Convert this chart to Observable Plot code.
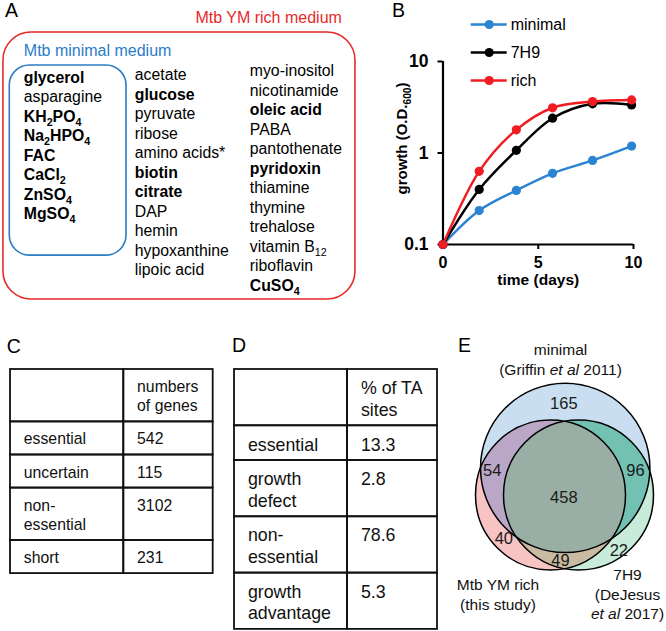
<!DOCTYPE html>
<html><head><meta charset="utf-8">
<script src="https://cdn.jsdelivr.net/npm/d3@7"></script>
<script src="https://cdn.jsdelivr.net/npm/@observablehq/plot@0.6"></script>
<style>
body{margin:0;background:#fff;}
#fig{position:relative;width:666px;height:631px;overflow:hidden;background:#fff;font-family:"Liberation Sans",Arial,Helvetica,sans-serif;}
.panel{position:absolute;}
.letter{position:absolute;font-size:19.5px;line-height:1;color:#000;}
</style></head><body><div id="fig"></div><script>
// ---------- Panel A data ----------
const minimalComponents = ["glycerol", "asparagine", "KH_{2}PO_{4}", "Na_{2}HPO_{4}", "FAC", "CaCl_{2}", "ZnSO_{4}", "MgSO_{4}"];
const richComponents1 = ["acetate", "glucose", "pyruvate", "ribose", "amino acids*", "biotin", "citrate", "DAP", "hemin", "hypoxanthine", "lipoic acid"];
const richComponents2 = ["myo-inositol", "nicotinamide", "oleic acid", "PABA", "pantothenate", "pyridoxin", "thiamine", "thymine", "trehalose", "vitamin B_{12}", "riboflavin", "CuSO_{4}"];
const boldComponents = ["glycerol", "KH_{2}PO_{4}", "Na_{2}HPO_{4}", "FAC", "CaCl_{2}", "ZnSO_{4}", "MgSO_{4}", "glucose", "biotin", "citrate", "oleic acid", "pyridoxin", "CuSO_{4}"];
const mediumTitles = ["Mtb YM rich medium", "Mtb minimal medium"];

// ---------- Panel B data ----------
const seriesNames = ["minimal", "7H9", "rich"];
const days = [0, 1.9, 3.85, 5.75, 7.85, 9.9];
const odMinimal = [0.1, 0.235, 0.39, 0.6, 0.83, 1.19];
const od7H9 = [0.1, 0.40, 1.07, 2.4, 3.45, 3.35];
const odRich = [0.1, 0.63, 1.79, 3.12, 3.65, 3.8];
const yTicks = [0.1, 1, 10];
const xTicks = [0, 5, 10];

// ---------- Panel C data ----------
const geneHeader = ["", "numbers\nof genes"];
const geneCategories = ["essential", "uncertain", "non-\nessential", "short"];
const geneCounts = [542, 115, 3102, 231];

// ---------- Panel D data ----------
const taHeader = ["", "% of TA\nsites"];
const taCategories = ["essential", "growth\ndefect", "non-\nessential", "growth\nadvantage"];
const taPercent = [13.3, 2.8, 78.6, 5.3];

// ---------- Panel E data ----------
const vennSetLabels = [["minimal", "(Griffin ~et al~ 2011)"], ["Mtb YM rich", "(this study)"], ["7H9", "(DeJesus", "~et al~ 2017)"]];
const vennRegions = ["minimal only", "minimal+rich", "minimal+7H9", "all three", "rich only", "7H9 only", "rich+7H9"];
const vennCounts = [165, 54, 96, 458, 40, 22, 49];

// ---------- styles / layout ----------
const FONT = '"Liberation Sans", Arial, Helvetica, sans-serif';
const RED = "#e62a2a", BLUE = "#2b7cc6";
const seriesColors = ["#2a84d2", "#000000", "#f01c22"];
const baseStyle = {fontFamily: FONT, fontSize: "16px", background: "transparent", color: "#000", overflow: "visible"};
const NS = "http://www.w3.org/2000/svg";
const fig = document.getElementById("fig");

function richText(root) {
  root.querySelectorAll("text").forEach(textEl => {
    const els = [textEl, ...textEl.querySelectorAll("tspan")];
    for (const el of els) {
      for (const node of [...el.childNodes]) {
        if (node.nodeType !== 3 || !/[_~]/.test(node.nodeValue)) continue;
        const fs = parseFloat(getComputedStyle(el).fontSize) || 16;
        const s = node.nodeValue;
        const frag = document.createDocumentFragment();
        const re = /_\{([^}]*)\}|~([^~]*)~/g;
        let last = 0, m, shift = 0;
        const push = (str, attrs) => {
          const t = document.createElementNS(NS, "tspan");
          for (const k in attrs) t.setAttribute(k, attrs[k]);
          t.textContent = str;
          frag.appendChild(t);
        };
        while ((m = re.exec(s))) {
          if (m.index > last) { push(s.slice(last, m.index), shift ? {dy: -shift} : {}); shift = 0; }
          if (m[1] !== undefined) {
            const d = fs * 0.24;
            push(m[1], {"font-size": (fs * 0.68).toFixed(2), dy: d - shift});
            shift = d;
          } else {
            push(m[2], Object.assign({"font-style": "italic"}, shift ? {dy: -shift} : {}));
            shift = 0;
          }
          last = re.lastIndex;
        }
        if (last < s.length) push(s.slice(last), shift ? {dy: -shift} : {});
        el.replaceChild(frag, node);
      }
    }
  });
}

function place(el, left, top) {
  const wrap = document.createElement("div");
  wrap.className = "panel";
  wrap.style.left = left + "px";
  wrap.style.top = top + "px";
  wrap.appendChild(el);
  fig.appendChild(wrap);
  richText(el);
  return el;
}

// ---------- Panel A ----------
const columnsA = [minimalComponents, richComponents1, richComponents2];
const itemsA = columnsA.flatMap((names, col) => names.map((name, row) => ({col, row, name, bold: boldComponents.includes(name)})));
const colNudge = [{dx: 0, dy: 6.2}, {dx: -2, dy: 3.6}, {dx: 0, dy: -0.3}];
const boxRich = {x1: -0.18, x2: 2.935, y1: -2.0, y2: 11.69};
const boxMinimal = {x1: -0.124, x2: 0.909, y1: -0.31, y2: 9.44};
const plotA = Plot.plot({
  width: 380, height: 300,
  marginLeft: 23.3, marginRight: 130.7, marginTop: 71, marginBottom: 14.5,
  x: {domain: [0, 2], axis: null},
  y: {domain: [0, 11], reverse: true, axis: null},
  style: baseStyle,
  marks: [
    Plot.rect([boxRich], {x1: "x1", x2: "x2", y1: "y1", y2: "y2", rx: 28, fill: "none", stroke: RED, strokeWidth: 1.6}),
    Plot.rect([boxMinimal], {x1: "x1", x2: "x2", y1: "y1", y2: "y2", rx: 20, fill: "none", stroke: BLUE, strokeWidth: 1.6}),
    Plot.text([mediumTitles[0]], {x: 1.519, y: -2.77, textAnchor: "start", lineAnchor: "middle", fill: RED, fontSize: 16}),
    Plot.text([mediumTitles[1]], {x: 0, y: -1.077, textAnchor: "start", lineAnchor: "middle", fill: BLUE, fontSize: 16}),
    ...colNudge.flatMap((o, col) => [false, true].map(bold =>
      Plot.text(itemsA.filter(d => d.col === col && d.bold === bold), {
        x: "col", y: "row", text: "name", textAnchor: "start", lineAnchor: "middle",
        dx: o.dx, dy: o.dy, fontSize: 15.8, fontWeight: bold ? "bold" : "normal", fill: "#000"
      })))
  ]
});
place(plotA, 0, 0);

// ---------- Panel B ----------
const growthSeries = [odMinimal, od7H9, odRich];
const growth = seriesNames.flatMap((s, k) => days.map((d, i) => ({series: s, day: d, od: growthSeries[k][i]})));
const plotB = Plot.plot({
  width: 286, height: 295,
  marginLeft: 62.5, marginRight: 33, marginTop: 61, marginBottom: 51,
  x: {domain: [0, 10]},
  y: {type: "log", domain: [0.1, 10]},
  color: {domain: seriesNames, range: seriesColors},
  style: baseStyle,
  marks: [
    Plot.axisY({ticks: yTicks, tickFormat: d => String(d), tickSize: 5, tickPadding: 9.5, fontSize: 17.5, fontWeight: "bold", strokeWidth: 2, label: null}),
    Plot.axisX({ticks: xTicks, tickSize: 5, tickPadding: 7, fontSize: 16, fontWeight: "bold", strokeWidth: 2, label: null}),
    Plot.ruleY([0.1], {x1: 0, x2: 10, stroke: "#000", strokeWidth: 2.2}),
    Plot.ruleX([0], {y1: 0.1, y2: 10, stroke: "#000", strokeWidth: 2.2}),
    Plot.line(growth, {x: "day", y: "od", stroke: "series", z: "series", curve: "catmull-rom", strokeWidth: 2.5}),
    Plot.dot(growth, {x: "day", y: "od", fill: "series", r: 4.6}),
    Plot.text(["time (days)"], {frameAnchor: "bottom", lineAnchor: "middle", textAnchor: "middle", dy: 35.3, fontSize: 15.5, fontWeight: "bold"}),
    Plot.text(["growth (O.D._{600})"], {frameAnchor: "left", lineAnchor: "middle", textAnchor: "middle", rotate: -90, dx: -40.8, dy: -14.5, fontSize: 15, fontWeight: "bold"})
  ]
});
place(plotB, 380, 0);

const legendB = Plot.plot({
  width: 120, height: 95,
  marginLeft: 5.7, marginRight: 78.3, marginTop: 23.3, marginBottom: 15,
  x: {domain: [0, 1], axis: null},
  y: {type: "point", domain: seriesNames, padding: 0, axis: null},
  color: {domain: seriesNames, range: seriesColors},
  style: baseStyle,
  marks: [
    Plot.ruleY(seriesNames, {y: d => d, x1: 0, x2: 1, stroke: d => d, strokeWidth: 2.5}),
    Plot.dot(seriesNames, {x: 0.5, y: d => d, fill: d => d, r: 4.6}),
    Plot.text(seriesNames, {x: 1, y: d => d, text: d => d, textAnchor: "start", lineAnchor: "middle", dx: 3.5, fontSize: 16, fill: "#000"})
  ]
});
place(legendB, 465, 0);

// ---------- Tables C and D ----------
function buildTable({header, categories, values, format, fontSize, lineHeight, rowPad, textOffset, colWidths, textPadX, strokeWidth}) {
  const rows = [header, ...categories.map((c, i) => [c, format(values[i])])];
  const edges = [0];
  colWidths.forEach(w => edges.push(edges[edges.length - 1] + w));
  const W = edges[edges.length - 1];
  const padU = rowPad / lineHeight, offU = textOffset / lineHeight;
  let top = 0;
  const cells = [], lines = [];
  rows.forEach(row => {
    const split = row.map(s => s.split("\n"));
    const n = Math.max(...split.map(a => a.length));
    const h = n + padU;
    split.forEach((ls, k) => {
      cells.push({x1: edges[k], x2: edges[k + 1], y1: top, y2: top + h});
      ls.forEach((t, j) => { if (t) lines.push({x: edges[k] + textPadX, y: top + offU + j, text: t}); });
    });
    top += h;
  });
  const m = 2;
  return Plot.plot({
    width: W + 2 * m, height: top * lineHeight + 2 * m, margin: m,
    x: {domain: [0, W], range: [m, m + W], axis: null},
    y: {domain: [0, top], range: [m, m + top * lineHeight], axis: null},
    style: baseStyle,
    marks: [
      Plot.rect(cells, {x1: "x1", x2: "x2", y1: "y1", y2: "y2", fill: "none", stroke: "#111", strokeWidth}),
      Plot.text(lines, {x: "x", y: "y", text: "text", textAnchor: "start", lineAnchor: "middle", fontSize, fill: "#111"})
    ]
  });
}
const tableC = buildTable({header: geneHeader, categories: geneCategories, values: geneCounts, format: d => String(d),
  fontSize: 15.8, lineHeight: 19.3, rowPad: 13.8, textOffset: 17.5, colWidths: [113.3, 89.4], textPadX: 13.3, strokeWidth: 1.8});
place(tableC, 8, 367.3);
const tableD = buildTable({header: taHeader, categories: taCategories, values: taPercent, format: d => d.toFixed(1),
  fontSize: 17.8, lineHeight: 21.6, rowPad: 13.1, textOffset: 19, colWidths: [113, 90], textPadX: 13.4, strokeWidth: 1.8});
place(tableD, 232.3, 367.3);

// ---------- Panel E (Venn) ----------
const vennLayout = {
  circles: [{cx: 134.7, cy: 167.4, r: 84.7}, {cx: 120, cy: 194.5, r: 75}, {cx: 148, cy: 194.5, r: 75}],
  countAt: [[133.3, 103.3], [61.7, 170], [205, 170], [133.3, 197.7], [73.3, 238.3], [188.3, 250], [130, 260.7]],
  labelAt: [[130, 50, 20], [67.5, 285, 20], [197, 275, 19.2]]
};
const [cMin, cRich, c7H9] = vennLayout.circles;
const disc = (c, fill) => Plot.dot([c], {x: "cx", y: "cy", r: c.r, fill, stroke: "none"});
const countItems = vennCounts.map((n, i) => ({n, region: vennRegions[i], x: vennLayout.countAt[i][0], y: vennLayout.countAt[i][1]}));
const labelItems = vennSetLabels.flatMap((ls, k) => ls.map((t, j) => ({t, x: vennLayout.labelAt[k][0], y: vennLayout.labelAt[k][1] + j * vennLayout.labelAt[k][2]})));
const plotE = Plot.plot({
  width: 236, height: 331, margin: 0,
  x: {domain: [0, 236], range: [0, 236], axis: null},
  y: {domain: [0, 331], range: [0, 331], axis: null},
  style: baseStyle,
  marks: [
    disc(cMin, "#c9def1"), disc(cRich, "#f7c3c3"), disc(c7H9, "#c8ecd9"),
    disc(cRich, "#baa6c6"),
    disc(c7H9, "#72c1b3"),
    disc(c7H9, "#c9bba2"),
    disc(c7H9, "#99afa5"),
    ...vennLayout.circles.map(c => Plot.dot([c], {x: "cx", y: "cy", r: c.r, fill: "none", stroke: "#000", strokeWidth: 1.5})),
    Plot.text(countItems, {x: "x", y: "y", text: d => String(d.n), fontSize: 16.5, fill: "#1a1a1a", lineAnchor: "middle"}),
    Plot.text(labelItems, {x: "x", y: "y", text: "t", fontSize: 15.5, fill: "#111", lineAnchor: "middle"})
  ]
});
place(plotE, 430, 300);
(function clipVenn() {
  const sx = plotE.scale("x"), sy = plotE.scale("y");
  const defs = document.createElementNS(NS, "defs");
  vennLayout.circles.forEach((c, i) => {
    const cp = document.createElementNS(NS, "clipPath");
    cp.setAttribute("id", "venn-clip-" + i);
    const ci = document.createElementNS(NS, "circle");
    ci.setAttribute("cx", sx.apply(c.cx));
    ci.setAttribute("cy", sy.apply(c.cy));
    ci.setAttribute("r", c.r);
    cp.appendChild(ci);
    defs.appendChild(cp);
  });
  plotE.insertBefore(defs, plotE.firstChild);
  const groups = plotE.querySelectorAll('g[aria-label="dot"]');
  groups[3].setAttribute("clip-path", "url(#venn-clip-0)");
  groups[4].setAttribute("clip-path", "url(#venn-clip-0)");
  groups[5].setAttribute("clip-path", "url(#venn-clip-1)");
  groups[6].setAttribute("clip-path", "url(#venn-clip-1)");
  const wrap = document.createElementNS(NS, "g");
  wrap.setAttribute("clip-path", "url(#venn-clip-0)");
  groups[6].parentNode.insertBefore(wrap, groups[6]);
  wrap.appendChild(groups[6]);
})();

// ---------- Panel letters ----------
[["A", 5, 0.5], ["B", 392, 0.5], ["C", 6.7, 336.5], ["D", 232, 335.5], ["E", 458, 335.5]].forEach(([t, l, tp]) => {
  const d = document.createElement("div");
  d.className = "letter";
  d.style.left = l + "px";
  d.style.top = tp + "px";
  d.textContent = t;
  fig.appendChild(d);
});
</script></body></html>
